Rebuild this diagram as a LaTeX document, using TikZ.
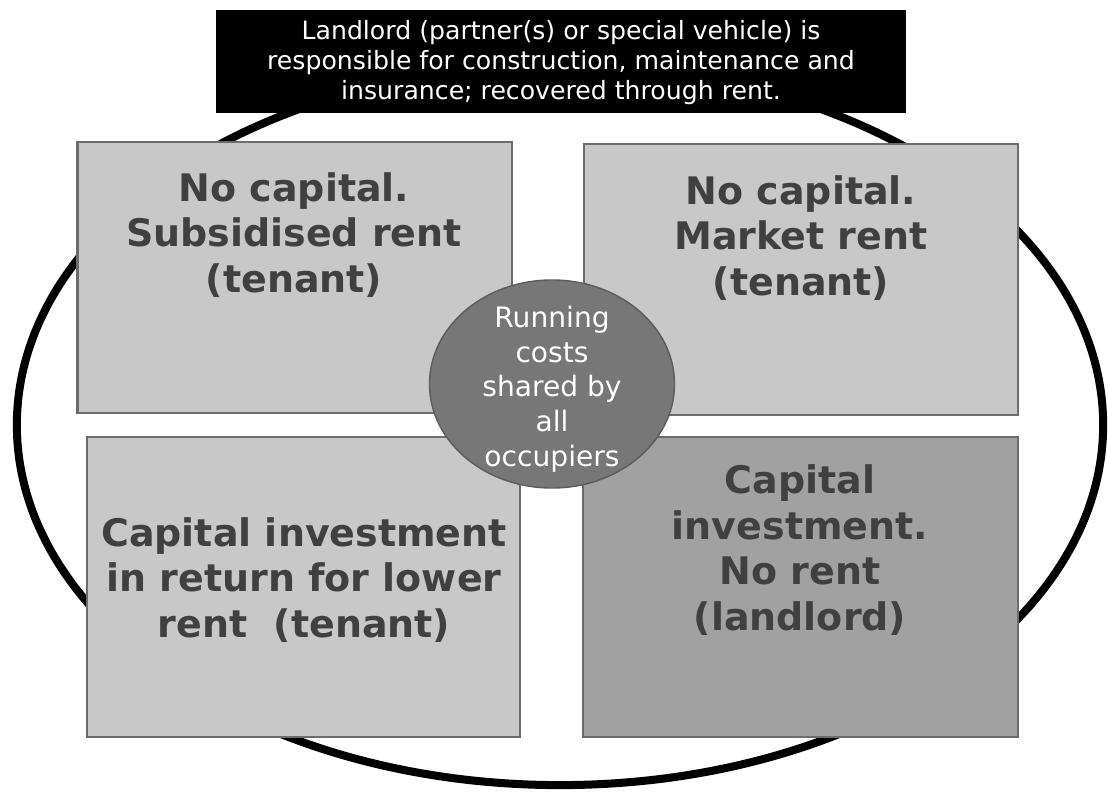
\documentclass[tikz,border=0pt]{standalone}
\usepackage{fontspec}
\setmainfont{DejaVu Sans}
\usetikzlibrary{shapes.geometric}

\definecolor{boxgrey}{RGB}{200,200,200}
\definecolor{darkbox}{RGB}{161,161,161}
\definecolor{edgegrey}{RGB}{108,108,108}
\definecolor{textgrey}{RGB}{64,64,64}
\definecolor{hubgrey}{RGB}{119,119,119}
\definecolor{hubedge}{RGB}{92,92,92}

\begin{document}
\begin{tikzpicture}[x=0.025cm,y=-0.025cm,
    quad/.style={draw=edgegrey,line width=1.5pt,fill=boxgrey,inner sep=0pt},
    quadtext/.style={text=textgrey,align=center,inner sep=0pt,
        font=\fontsize{27}{32.4}\selectfont\bfseries},
    hub/.style={ellipse,draw=hubedge,line width=1pt,fill=hubgrey,inner sep=0pt,
        minimum width=6.125cm,minimum height=5.2cm},
    hubtext/.style={text=white,align=center,inner sep=0pt,
        font=\fontsize{20}{24.7}\selectfont}]
    \useasboundingbox (0,0) rectangle (1108,793);

    \node[ellipse,draw,line width=5.7pt,minimum width=27.15cm,minimum height=18cm,inner sep=0pt]
        (ring) at (560,425) {};

    \node[fill=black,minimum width=17.25cm,minimum height=2.575cm,inner sep=0pt]
        (landlord) at (561,61.5) {};
    \node[text=white,align=center,inner sep=0pt,font=\fontsize{17.9}{21.3}\selectfont]
        (landlordtext) at (561,63) {Landlord (partner(s) or special vehicle) is\\
        responsible for construction, maintenance and\\insurance; recovered through rent.};

    \node[quad,minimum width=10.85cm,minimum height=6.775cm] (subsidised) at (294.5,277.5) {};
    \node[quad,minimum width=10.85cm,minimum height=6.775cm] (market) at (801,279.5) {};
    \node[quad,minimum width=10.825cm,minimum height=7.5cm] (lower) at (303.5,587) {};
    \node[quad,fill=darkbox,minimum width=10.875cm,minimum height=7.5cm] (norent) at (800.5,587) {};

    \node[quadtext] (subsidisedtext) at (294,235) {No capital.\\Subsidised rent\\(tenant)};
    \node[quadtext] (markettext) at (801,238) {No capital.\\Market rent\\(tenant)};
    \node[quadtext] (lowertext) at (304,580) {Capital investment\\in return for lower\\rent\ \ (tenant)};
    \node[quadtext] (norenttext) at (800,550) {Capital\\investment.\\No rent\\(landlord)};

    \node[hub] (running) at (552,384) {};
    \node[hubtext] (runningtext) at (552,389) {Running\\costs\\shared by\\all\\occupiers};
\end{tikzpicture}
\end{document}
